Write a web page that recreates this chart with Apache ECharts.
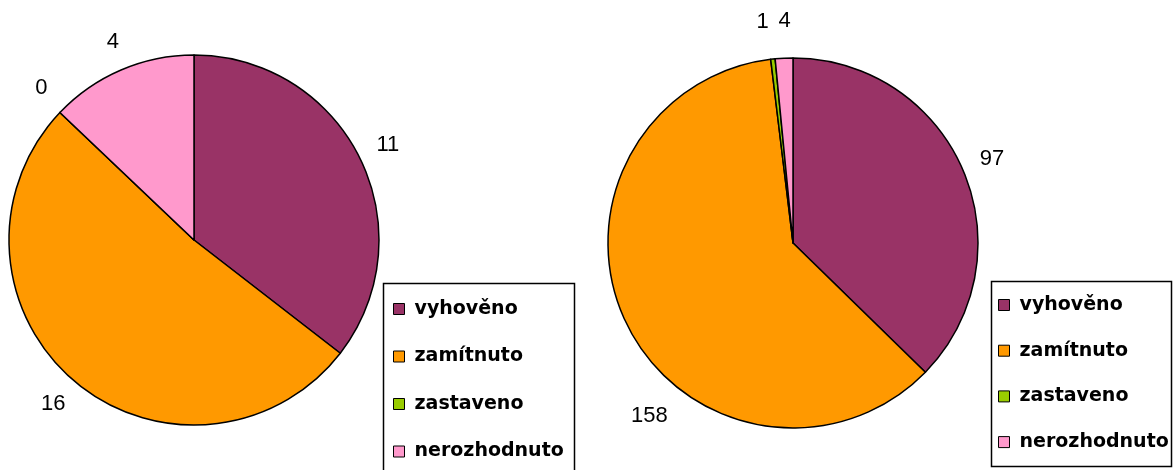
<!DOCTYPE html>
<html>
<head>
<meta charset="utf-8">
<script src="https://cdn.jsdelivr.net/npm/echarts@6/dist/echarts.min.js"></script>
<style>
    html, body { margin: 0; padding: 0; background: #fff; }
    #main { width: 1175px; height: 470px; }
</style>
</head>
<body>
<div id="main"></div>
<script>
// kategorie a hodnoty
const categories = ['vyhověno', 'zamítnuto', 'zastaveno', 'nerozhodnuto'];
const leftValues = [11, 16, 0, 4];
const rightValues = [97, 158, 1, 4];
const colors = ['#993366', '#FF9900', '#99CC00', '#FF99CC'];

function pieData(values) {
    return categories.map((name, i) => ({
        name: name,
        value: values[i],
        itemStyle: { color: colors[i] }
    }));
}

// kruh pro popisky (pruhledny), popisky uprostred kruhu
function labelData(values, offsets) {
    return categories.map((name, i) => ({
        name: name,
        value: values[i],
        label: offsets && offsets[i] ? { offset: offsets[i] } : {}
    }));
}

function mainPie(center, values) {
    return {
        type: 'pie',
        center: center,
        radius: [0, 185],
        startAngle: 90,
        clockwise: true,
        silent: true,
        label: { show: false },
        labelLine: { show: false },
        itemStyle: { borderColor: '#000', borderWidth: 1.5 },
        emphasis: { disabled: true },
        data: pieData(values)
    };
}

function labelPie(center, values, offsets) {
    return {
        type: 'pie',
        center: center,
        radius: [186, 240],
        startAngle: 90,
        clockwise: true,
        silent: true,
        itemStyle: { color: 'rgba(0,0,0,0)', borderWidth: 0 },
        label: {
            show: true,
            position: 'inside',
            formatter: '{c}',
            color: '#000',
            fontSize: 22,
            fontFamily: 'Liberation Sans, Arial, sans-serif'
        },
        labelLine: { show: false },
        emphasis: { disabled: true },
        data: labelData(values, offsets)
    };
}

const legendText = {
    color: '#000',
    fontSize: 19,
    fontWeight: 'bold',
    fontFamily: 'DejaVu Sans, sans-serif',
    lineHeight: 20,
    padding: [0, 0, 0, 5]
};

let Chart = echarts.init(document.getElementById('main'));
let options = {
    animation: false,
    backgroundColor: '#fff',
    legend: [
        {
            orient: 'vertical',
            left: 393,
            top: 299,
            itemWidth: 11,
            itemHeight: 11,
            itemGap: 27.5,
            icon: 'rect',
            padding: 0,
            selectedMode: false,
            itemStyle: { borderColor: '#000', borderWidth: 1 },
            textStyle: legendText,
            data: categories
        },
        {
            orient: 'vertical',
            left: 998,
            top: 295,
            itemWidth: 11,
            itemHeight: 11,
            itemGap: 25.7,
            icon: 'rect',
            padding: 0,
            selectedMode: false,
            itemStyle: { borderColor: '#000', borderWidth: 1 },
            textStyle: legendText,
            data: categories
        }
    ],
    graphic: [
        {
            type: 'rect',
            shape: { x: 383.5, y: 283.5, width: 191, height: 200 },
            style: { fill: 'none', stroke: '#000', lineWidth: 1.5 },
            z: 0
        },
        {
            type: 'rect',
            shape: { x: 991.5, y: 281.5, width: 180, height: 185 },
            style: { fill: 'none', stroke: '#000', lineWidth: 1.5 },
            z: 0
        }
    ],
    series: [
        mainPie([194, 240], leftValues),
        mainPie([793, 243], rightValues),
        labelPie([194, 240], leftValues, [null, null, [4, -3], [4, 0]]),
        labelPie([793, 243], rightValues, [null, [50, 77], [-7, -6], [2, -6]])
    ]
};
Chart.setOption(options);
</script>
</body>
</html>
